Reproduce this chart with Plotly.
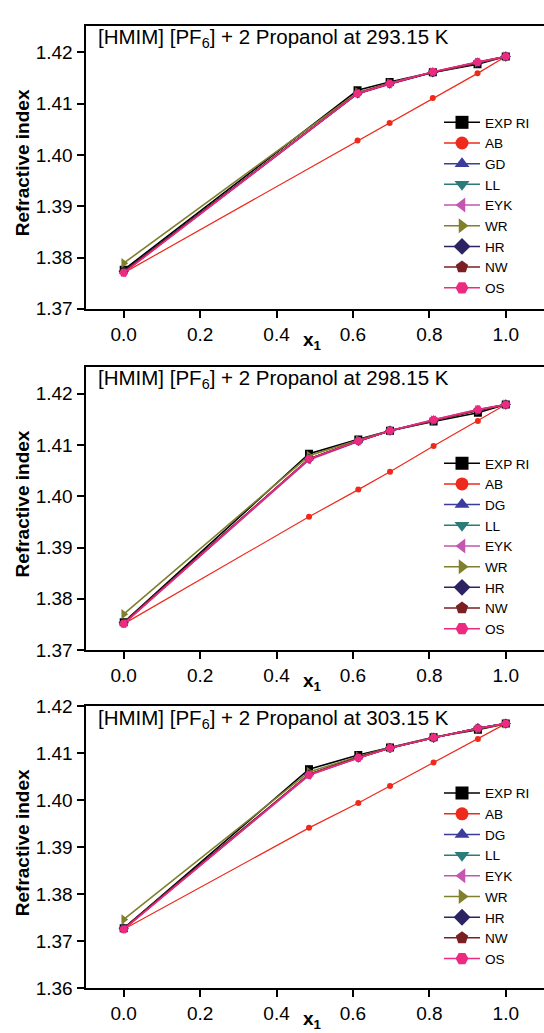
import plotly.graph_objects as go

# ---------------- data ----------------
series_names_1 = ["EXP RI", "AB", "GD", "LL", "EYK", "WR", "HR", "NW", "OS"]
series_names_23 = ["EXP RI", "AB", "DG", "LL", "EYK", "WR", "HR", "NW", "OS"]

titles = ["[HMIM] [PF<sub>6</sub>] + 2 Propanol at 293.15 K",
          "[HMIM] [PF<sub>6</sub>] + 2 Propanol at 298.15 K",
          "[HMIM] [PF<sub>6</sub>] + 2 Propanol at 303.15 K"]

x_293 = [0.0, 0.612, 0.696, 0.809, 0.926, 1.0]
y_293 = {
    "EXP RI": [1.3776, 1.4126, 1.4142, 1.4161, 1.4177, 1.4192],
    "AB":     [1.3770, 1.4028, 1.4062, 1.4111, 1.4159, 1.4192],
    "GD":     [1.3772, 1.4120, 1.4139, 1.4161, 1.4180, 1.4192],
    "LL":     [1.3771, 1.4120, 1.4139, 1.4161, 1.4180, 1.4192],
    "EYK":    [1.3771, 1.4119, 1.4138, 1.4161, 1.4181, 1.4192],
    "WR":     [1.3789, 1.4122, 1.4140, 1.4161, 1.4180, 1.4192],
    "HR":     [1.3773, 1.4120, 1.4139, 1.4161, 1.4180, 1.4192],
    "NW":     [1.3772, 1.4120, 1.4139, 1.4161, 1.4180, 1.4192],
    "OS":     [1.3770, 1.4120, 1.4139, 1.4162, 1.4181, 1.4192],
}

x_298 = [0.0, 0.485, 0.614, 0.697, 0.811, 0.927, 1.0]
y_298 = {
    "EXP RI": [1.3754, 1.4083, 1.4111, 1.4128, 1.4146, 1.4163, 1.4179],
    "AB":     [1.3751, 1.3960, 1.4013, 1.4048, 1.4098, 1.4147, 1.4179],
    "DG":     [1.3753, 1.4073, 1.4108, 1.4128, 1.4148, 1.4168, 1.4179],
    "LL":     [1.3752, 1.4072, 1.4108, 1.4128, 1.4148, 1.4168, 1.4179],
    "EYK":    [1.3752, 1.4071, 1.4107, 1.4128, 1.4149, 1.4169, 1.4179],
    "WR":     [1.3770, 1.4079, 1.4110, 1.4128, 1.4148, 1.4168, 1.4179],
    "HR":     [1.3753, 1.4073, 1.4108, 1.4128, 1.4148, 1.4168, 1.4179],
    "NW":     [1.3753, 1.4073, 1.4108, 1.4128, 1.4148, 1.4168, 1.4179],
    "OS":     [1.3751, 1.4073, 1.4108, 1.4128, 1.4149, 1.4169, 1.4179],
}

x_303 = [0.0, 0.485, 0.614, 0.697, 0.811, 0.927, 1.0]
y_303 = {
    "EXP RI": [1.3727, 1.4066, 1.4096, 1.4112, 1.4134, 1.4150, 1.4163],
    "AB":     [1.3725, 1.3941, 1.3994, 1.4030, 1.4080, 1.4130, 1.4163],
    "DG":     [1.3727, 1.4055, 1.4091, 1.4111, 1.4133, 1.4153, 1.4163],
    "LL":     [1.3726, 1.4054, 1.4090, 1.4111, 1.4133, 1.4153, 1.4163],
    "EYK":    [1.3726, 1.4053, 1.4090, 1.4111, 1.4133, 1.4153, 1.4163],
    "WR":     [1.3746, 1.4060, 1.4093, 1.4112, 1.4134, 1.4152, 1.4163],
    "HR":     [1.3727, 1.4055, 1.4091, 1.4111, 1.4133, 1.4153, 1.4163],
    "NW":     [1.3727, 1.4055, 1.4091, 1.4111, 1.4133, 1.4153, 1.4163],
    "OS":     [1.3725, 1.4054, 1.4090, 1.4111, 1.4133, 1.4153, 1.4163],
}

x_ticks = [0.0, 0.2, 0.4, 0.6, 0.8, 1.0]
x_tick_labels = ["0.0", "0.2", "0.4", "0.6", "0.8", "1.0"]
y_ticks_12 = [1.37, 1.38, 1.39, 1.40, 1.41, 1.42]
y_ticks_3 = [1.36, 1.37, 1.38, 1.39, 1.40, 1.41, 1.42]

# ---------------- styles ----------------
styles = [
    dict(color="#000000", symbol="square", size=8, lw=1.6),
    dict(color="#ee2a1c", symbol="circle", size=6, lw=1.2),
    dict(color="#3b3c9c", symbol="triangle-up", size=8, lw=1.6),
    dict(color="#2b7b78", symbol="triangle-down", size=8, lw=1.6),
    dict(color="#c455b0", symbol="triangle-left", size=8, lw=1.6),
    dict(color="#7f7f2c", symbol="triangle-right", size=9, lw=1.6),
    dict(color="#2c2462", symbol="diamond", size=8, lw=1.6),
    dict(color="#7a1f22", symbol="pentagon", size=8, lw=1.6),
    dict(color="#ec2a80", symbol="hexagon2", size=9, lw=1.6),
]

FONT = "Liberation Sans, Arial, sans-serif"
W, H = 544, 1033

panels = [
    dict(x=x_293, y=y_293, names=series_names_1, yr=[1.37, 1.4252], yt=y_ticks_12,
         top=16, bot=305, legoff=83),
    dict(x=x_298, y=y_298, names=series_names_23, yr=[1.37, 1.4253], yt=y_ticks_12,
         top=364, bot=653.3, legoff=83),
    dict(x=x_303, y=y_303, names=series_names_23, yr=[1.36, 1.42], yt=y_ticks_3,
         top=710.7, bot=998.3, legoff=73),
]

fig = go.Figure()
left_px = 85.5
annotations = []
for i, p in enumerate(panels):
    k = "" if i == 0 else str(i + 1)
    xa, ya = "x" + k, "y" + k
    leg = "legend" + k
    # data traces
    for j, name in enumerate(p["names"]):
        st = styles[j]
        fig.add_trace(go.Scatter(
            x=p["x"], y=p["y"][name], xaxis=xa, yaxis=ya, mode="lines+markers",
            line=dict(color=st["color"], width=st["lw"]),
            marker=dict(symbol=st["symbol"], size=st["size"], color=st["color"],
                        line=dict(width=0)),
            showlegend=False, name=name, legend=leg))
    # legend-only entries (larger legend symbols, no drawn data)
    for j, name in enumerate(p["names"]):
        st = styles[j]
        fig.add_trace(go.Scatter(
            x=[None, None], y=[None, None], xaxis=xa, yaxis=ya, mode="lines+markers",
            line=dict(color=st["color"], width=1.5),
            marker=dict(symbol=st["symbol"], size=13, color=st["color"],
                        line=dict(width=0)),
            showlegend=True, name=name, legend=leg))
    y0 = 1 - p["bot"] / H
    y1 = 1 - p["top"] / H
    axis_common = dict(showline=True, linecolor="black", linewidth=2,
                       ticks="outside", ticklen=7, tickwidth=2, tickcolor="black",
                       showgrid=False, zeroline=False,
                       tickfont=dict(family=FONT, size=19, color="black"))
    fig.update_layout(**{
        "xaxis" + k: dict(domain=[left_px / W, 1.0], range=[-0.1, 1.1], anchor=ya,
                          mirror=True, tickvals=x_ticks, ticktext=x_tick_labels,
                          **axis_common),
        "yaxis" + k: dict(domain=[y0, y1], range=p["yr"], anchor=xa,
                          tickvals=p["yt"], ticktext=["%.2f" % v for v in p["yt"]],
                          **axis_common),
        leg: dict(x=439 / W, y=1 - (p["top"] + p["legoff"]) / H, xanchor="left",
                  yanchor="top", bgcolor="rgba(0,0,0,0)",
                  font=dict(family=FONT, size=13.6, color="black"),
                  tracegroupgap=0, itemwidth=36),
    })
    annotations.append(dict(text=titles[i], x=96 / W, y=1 - (p["top"] + 13) / H,
                            xref="paper", yref="paper", xanchor="left", yanchor="middle",
                            showarrow=False, font=dict(family=FONT, size=20.5, color="black")))
    annotations.append(dict(text="<b>x<sub>1</sub></b>", x=312 / W, y=1 - (p["bot"] + 33) / H,
                            xref="paper", yref="paper", xanchor="center", yanchor="middle",
                            showarrow=False, font=dict(family=FONT, size=19, color="black")))
    annotations.append(dict(text="<b>Refractive index</b>", x=22 / W,
                            y=1 - ((p["top"] + p["bot"]) / 2 - 4) / H, textangle=-90,
                            xref="paper", yref="paper", xanchor="center", yanchor="middle",
                            showarrow=False, font=dict(family=FONT, size=19, color="black")))

fig.update_layout(width=W, height=H, margin=dict(l=0, r=0, t=0, b=0),
                  paper_bgcolor="white", plot_bgcolor="white",
                  annotations=annotations, showlegend=True)

fig.write_html("out.html")
